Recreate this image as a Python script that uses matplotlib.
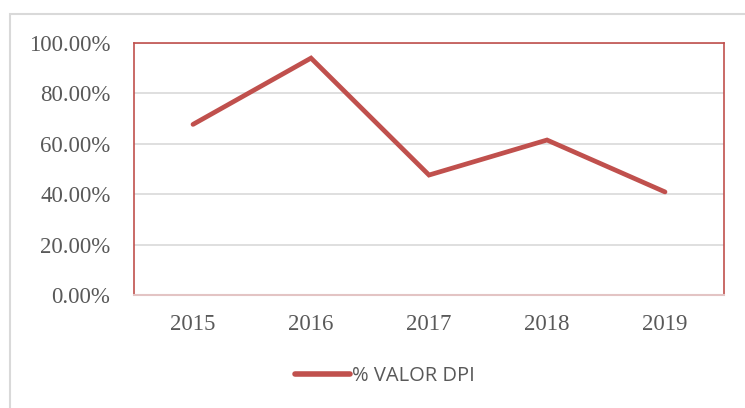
import matplotlib.pyplot as plt
from matplotlib.patches import Rectangle
from matplotlib.ticker import FuncFormatter

years = ["2015", "2016", "2017", "2018", "2019"]
valor_dpi = [67.7, 94.0, 47.6, 61.5, 40.9]
series_name = "% VALOR DPI"

red = "#C0504D"
grey_txt = "#595959"

fig = plt.figure(figsize=(7.45, 4.08), dpi=100)

# marco exterior gris claro
fig.patches.append(Rectangle((10 / 745, -0.1), 1.2, (408 - 14) / 408 + 0.1,
                             transform=fig.transFigure, fill=False,
                             edgecolor="#D9D9D9", linewidth=1.5))

ax = fig.add_axes([134 / 745, 113 / 408, 590 / 745, 252 / 408])
x = range(len(years))
ax.plot(x, valor_dpi, color=red, linewidth=3.4, solid_capstyle="round",
        solid_joinstyle="miter", label=series_name, zorder=3)

ax.set_xlim(-0.5, len(years) - 0.5)
ax.set_ylim(0, 100)
ax.set_yticks([0, 20, 40, 60, 80, 100])
ax.yaxis.set_major_formatter(FuncFormatter(lambda v, p: f"{v:.2f}%"))
ax.set_xticks(list(x))
ax.set_xticklabels(years)
ax.grid(axis="y", color="#D9D9D9", linewidth=1.2)
ax.set_axisbelow(True)

for s in ["left", "top", "right"]:
    ax.spines[s].set_color(red)
    ax.spines[s].set_linewidth(1.2)
ax.spines["bottom"].set_color("#E3C4C4")
ax.spines["bottom"].set_linewidth(1.5)

ax.tick_params(length=0, colors=grey_txt)
ax.tick_params(axis="y", pad=17)
ax.tick_params(axis="x", pad=14)
for lbl in ax.get_xticklabels() + ax.get_yticklabels():
    lbl.set_fontfamily("Liberation Serif")
    lbl.set_fontsize(16.5)
    lbl.set_color(grey_txt)

leg = ax.legend(loc="center", bbox_to_anchor=(385 / 745, 32 / 408),
                bbox_transform=fig.transFigure, frameon=False,
                prop={"family": "Open Sans", "size": 14.5},
                handlelength=2.7, handletextpad=0.1)
for t in leg.get_texts():
    t.set_color(grey_txt)
for h in leg.get_lines():
    h.set_linewidth(4)
    h.set_solid_capstyle("round")

fig.savefig("out.png", dpi=100)
